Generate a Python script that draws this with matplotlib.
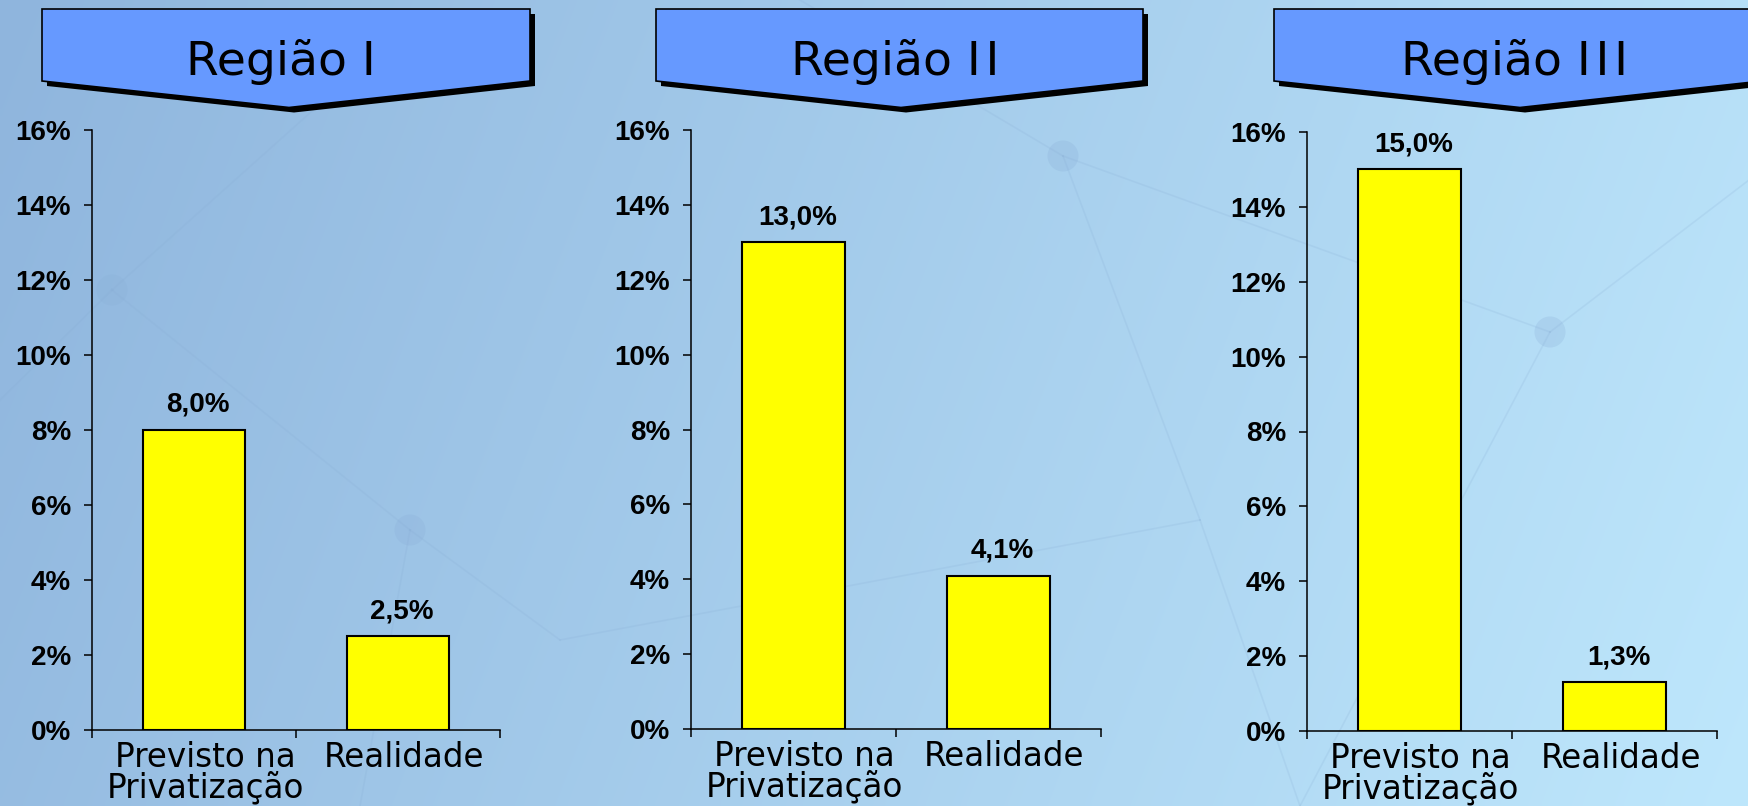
import numpy as np
import matplotlib
matplotlib.use("Agg")
import matplotlib.pyplot as plt
from matplotlib.patches import Polygon
from matplotlib.lines import Line2D
from matplotlib.transforms import ScaledTranslation

# ---------------- data ----------------
regions = ["Região I", "Região I\u200aI", "Região I\u200aI\u200aI"]
categories = ["Previsto na\nPrivatização", "Realidade"]
previsto = [8.0, 13.0, 15.0]
realidade = [2.5, 4.1, 1.3]
yticks = [0, 2, 4, 6, 8, 10, 12, 14, 16]
ytick_labels = [f"{v}%" for v in yticks]

# ---------------- layout (pixels) ----------------
W, H = 1749, 806
fig = plt.figure(figsize=(W / 100, H / 100), dpi=100)

def fx(x):
    return x / W

def fy(y):
    return 1 - y / H

# background gradient
bg = fig.add_axes([0, 0, 1, 1], zorder=-10)
bg.set_axis_off()
xx, yy = np.meshgrid(np.linspace(0, 1, 400), np.linspace(0, 1, 200))
t = np.clip(0.85 * xx + 0.15 * yy, 0, 1)[..., None]
c0 = np.array([0x8F, 0xB5, 0xDD]) / 255
c1 = np.array([0xBE, 0xE7, 0xFC]) / 255
img = c0 * (1 - t) + c1 * t
bg.imshow(img, aspect="auto", extent=[0, 1, 1, 0], interpolation="bilinear")
bg.set_xlim(0, 1)
bg.set_ylim(1, 0)

# faint network decoration
nodes = [(112, 290), (410, 530), (1063, 156), (1550, 332), (330, 95), (560, 640),
         (360, 806), (0, 400), (1300, 806), (1749, 180), (800, 0), (1200, 520)]
links = [(7, 0), (0, 4), (0, 1), (1, 5), (1, 6), (2, 10), (2, 3), (3, 9), (3, 8),
         (2, 11), (11, 8), (5, 11)]
for a, b in links:
    (x0, y0), (x1, y1) = nodes[a], nodes[b]
    bg.add_line(Line2D([x0 / W, x1 / W], [y0 / H, y1 / H], color="#86abd3",
                       lw=1.2, alpha=0.18))
for (x, y) in nodes[:4]:
    bg.scatter([x / W], [y / H], s=500, color="#8aafd8", alpha=0.25, edgecolors="none")

axes_px = [(92, 130, 500, 730), (691, 130, 1101, 729), (1307, 132, 1717, 731)]
banner_px = [(42, 530, 289), (656, 1143, 901), (1274, 1762, 1520)]
title_x = [281, 895, 1515]

for i in range(3):
    # banner
    l, r, tip = banner_px[i]
    pts = [(l, 9), (r, 9), (r, 81), (tip, 107.5), (l, 81)]
    shadow = [(fx(x + 5), fy(y + 5)) for x, y in pts]
    main = [(fx(x), fy(y)) for x, y in pts]
    fig.patches.append(Polygon(shadow, closed=True, transform=fig.transFigure,
                               facecolor="black", edgecolor="none", zorder=1))
    fig.patches.append(Polygon(main, closed=True, transform=fig.transFigure,
                               facecolor="#6699FF", edgecolor="black", lw=1.2, zorder=2))
    fig.text(fx(title_x[i]), fy(75), regions[i], ha="center", va="baseline",
             fontsize=34, family="DejaVu Sans", color="black", zorder=3)

    # chart
    x0, y0, x1, y1 = axes_px[i]
    ax = fig.add_axes([fx(x0), fy(y1), (x1 - x0) / W, (y1 - y0) / H])
    ax.patch.set_visible(False)
    vals = [previsto[i], realidade[i]]
    xs = np.arange(len(categories))
    ax.bar(xs, vals, width=0.5, color="#FFFF00", edgecolor="black", linewidth=1.5)
    ax.set_xlim(-0.5, 1.5)
    ax.set_ylim(0, 16)
    ax.set_yticks(yticks)
    ax.set_yticklabels(ytick_labels, fontsize=20, fontweight="bold",
                       family="Liberation Sans")
    ax.tick_params(axis="y", length=6, width=1.1, pad=9, direction="out")
    ax.set_xticks(xs)
    ax.set_xticklabels(categories, fontsize=23.5, family="DejaVu Sans", linespacing=0.86)
    ax.tick_params(axis="x", which="major", length=0, pad=8)
    ax.set_xticks([-0.5, 0.5, 1.5], minor=True)
    ax.tick_params(axis="x", which="minor", length=6, width=1.1, direction="out")
    for lbl, dx in zip(ax.get_xticklabels(), [11, 6]):
        lbl.set_transform(lbl.get_transform() + ScaledTranslation(dx / 100, 0, fig.dpi_scale_trans))
    for s in ["top", "right"]:
        ax.spines[s].set_visible(False)
    for s in ["left", "bottom"]:
        ax.spines[s].set_linewidth(1.1)
    for xv, v in zip(xs, vals):
        ax.annotate(f"{v:.1f}".replace(".", ",") + "%", xy=(xv, v), xytext=(4, 18),
                    textcoords="offset pixels", ha="center", va="baseline",
                    fontsize=20, fontweight="bold", family="Liberation Sans")

fig.savefig("out.png", dpi=100)
